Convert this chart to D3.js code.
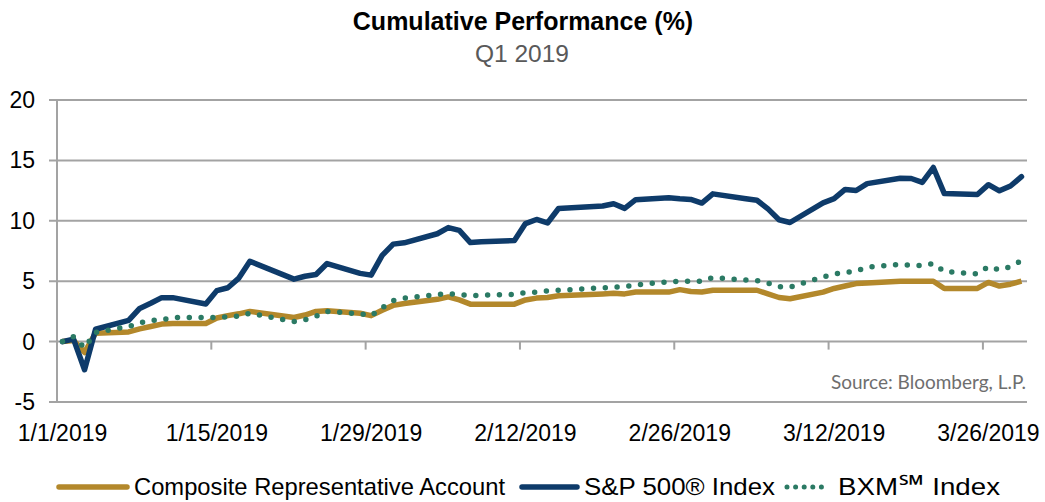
<!DOCTYPE html>
<html>
<head>
<meta charset="utf-8">
<script src="https://cdn.jsdelivr.net/npm/d3@7"></script>
<style>
  html, body { margin: 0; padding: 0; background: #fff; }
  svg { display: block; }
  text { font-family: "Liberation Sans", Arial, sans-serif; }
</style>
</head>
<body>
<svg id="chart" width="1045" height="502"></svg>
<script>
const dates = [
  "2019-01-01","2019-01-02","2019-01-03","2019-01-04","2019-01-07","2019-01-08","2019-01-09","2019-01-10","2019-01-11",
  "2019-01-14","2019-01-15","2019-01-16","2019-01-17","2019-01-18","2019-01-22","2019-01-23","2019-01-24","2019-01-25",
  "2019-01-28","2019-01-29","2019-01-30","2019-01-31",
  "2019-02-01","2019-02-04","2019-02-05","2019-02-06","2019-02-07","2019-02-08","2019-02-11","2019-02-12","2019-02-13",
  "2019-02-14","2019-02-15","2019-02-19","2019-02-20","2019-02-21","2019-02-22","2019-02-25","2019-02-26","2019-02-27","2019-02-28",
  "2019-03-01","2019-03-04","2019-03-05","2019-03-06","2019-03-07","2019-03-08","2019-03-11","2019-03-12","2019-03-13",
  "2019-03-14","2019-03-15","2019-03-18","2019-03-19","2019-03-20","2019-03-21","2019-03-22","2019-03-25","2019-03-26",
  "2019-03-27","2019-03-28","2019-03-29"
];
const composite = [
  0, 0.1, -0.9, 0.7, 0.8, 1.05, 1.25, 1.45, 1.5, 1.5, 1.95, 2.15, 2.3, 2.5, 2.0, 2.2, 2.5, 2.55, 2.35, 2.15, 2.6, 3.0,
  3.15, 3.5, 3.7, 3.45, 3.1, 3.1, 3.1, 3.45, 3.6, 3.65, 3.8, 3.95, 4.0, 3.95, 4.1, 4.1, 4.3, 4.15, 4.1,
  4.25, 4.25, 4.25, 3.95, 3.65, 3.55, 4.1, 4.4, 4.6, 4.8, 4.85, 5.0, 5.0, 5.0, 5.0, 4.4, 4.4, 4.9, 4.6, 4.75, 5.0
];
const sp500 = [
  0, 0.2, -2.33, 1.02, 1.75, 2.75, 3.17, 3.64, 3.64, 3.11, 4.22, 4.46, 5.26, 6.65, 5.17, 5.41, 5.55, 6.46, 5.65, 5.50, 7.14, 8.07,
  8.18, 8.93, 9.44, 9.21, 8.20, 8.27, 8.37, 9.77, 10.11, 9.82, 11.02, 11.22, 11.41, 11.03, 11.75, 11.91, 11.82, 11.77, 11.47,
  12.23, 11.82, 11.70, 10.99, 10.09, 9.86, 11.49, 11.83, 12.60, 12.51, 13.08, 13.52, 13.50, 13.18, 14.41, 12.25, 12.18, 12.99, 12.48, 12.88, 13.65
];
const bxm = [
  0, 0.4, -0.5, 0.75, 1.25, 1.55, 1.75, 1.8, 2.0, 2.0, 2.0, 2.05, 2.1, 2.35, 1.65, 1.8, 2.1, 2.5, 2.3, 2.15, 2.8, 3.4,
  3.6, 3.9, 3.95, 3.9, 3.8, 3.85, 3.9, 4.05, 4.1, 4.2, 4.25, 4.45, 4.5, 4.55, 4.7, 4.95, 5.0, 5.0, 5.0,
  5.3, 5.1, 5.05, 4.85, 4.55, 4.5, 5.35, 5.6, 5.7, 5.85, 6.15, 6.4, 6.3, 6.3, 6.45, 5.8, 5.6, 6.2, 5.95, 6.2, 6.7
];
const yTicks = [-5, 0, 5, 10, 15, 20];
const xTickLabels = ["1/1/2019","1/15/2019","1/29/2019","2/12/2019","2/26/2019","3/12/2019","3/26/2019"];
const seriesNames = ["Composite Representative Account", "S&P 500® Index", "BXM℠ Index"];
const titleText = "Cumulative Performance (%)";
const subtitleText = "Q1 2019";
const sourceText = "Source: Bloomberg, L.P.";

(function () {
const parse = d3.utcParse("%Y-%m-%d");
const HALF_DAY = 12 * 3600 * 1000;
const dateObjs = dates.map(parse);

const svg = d3.select("#chart");
const pLeft = 57, pRight = 1027, pTop = 100, pBottom = 402;

const x = d3.scaleUtc()
  .domain([parse("2019-01-01"), parse("2019-03-30")])
  .range([pLeft, pRight]);
const y = d3.scaleLinear().domain([-5, 20]).range([pBottom, pTop]);

const gridColor = "#a3a3a3";

svg.append("g").selectAll("line").data(yTicks).join("line")
  .attr("x1", pLeft - 8).attr("x2", pRight)
  .attr("y1", d => y(d)).attr("y2", d => y(d))
  .attr("stroke", gridColor).attr("stroke-width", 2);

svg.append("line")
  .attr("x1", pLeft).attr("x2", pLeft).attr("y1", y(20)).attr("y2", y(-5))
  .attr("stroke", gridColor).attr("stroke-width", 2);

svg.append("g").selectAll("text").data(yTicks).join("text")
  .attr("x", 35).attr("y", d => y(d) + 8)
  .attr("text-anchor", "end")
  .attr("font-size", 23).attr("fill", "#000")
  .text(d => d);

const tickDates = xTickLabels.map(s => d3.utcParse("%m/%d/%Y")(s));
svg.append("g").selectAll("line").data(tickDates.slice(1)).join("line")
  .attr("x1", d => x(d)).attr("x2", d => x(d))
  .attr("y1", y(0)).attr("y2", y(0) + 8)
  .attr("stroke", gridColor).attr("stroke-width", 2);

svg.append("g").selectAll("text").data(tickDates).join("text")
  .attr("x", d => x(new Date(+d + HALF_DAY)))
  .attr("y", 441)
  .attr("text-anchor", "middle")
  .attr("font-size", 23).attr("fill", "#000")
  .text((d, i) => xTickLabels[i]);

const line = d3.line()
  .x(d => x(new Date(+d[0] + HALF_DAY)))
  .y(d => y(d[1]));

const zip = arr => dateObjs.map((d, i) => [d, arr[i]]);

const gold = "#b3882b", navy = "#0e3b6a", green = "#2b7a64";

svg.append("path").datum(zip(composite))
  .attr("d", line).attr("fill", "none")
  .attr("stroke", gold).attr("stroke-width", 5.5)
  .attr("stroke-linejoin", "round");

svg.append("path").datum(zip(sp500))
  .attr("d", line).attr("fill", "none")
  .attr("stroke", navy).attr("stroke-width", 5.5)
  .attr("stroke-linejoin", "round").attr("stroke-linecap", "round");

svg.append("path").datum(zip(bxm))
  .attr("d", line).attr("fill", "none")
  .attr("stroke", green).attr("stroke-width", 5.5)
  .attr("stroke-linecap", "round")
  .attr("stroke-dasharray", "0 11.8");

svg.append("text").attr("x", 523).attr("y", 30)
  .attr("text-anchor", "middle").attr("font-size", 25).attr("font-weight", "bold")
  .attr("fill", "#000").text(titleText);
svg.append("text").attr("x", 522).attr("y", 62)
  .attr("text-anchor", "middle").attr("font-size", 24.5)
  .attr("fill", "#595959").text(subtitleText);

svg.append("text").attr("x", 1026).attr("y", 389)
  .attr("text-anchor", "end")
  .style("font-family", "Lato, 'Open Sans', sans-serif")
  .attr("font-size", 19).attr("fill", "#6e6e6e").text(sourceText);

const ly = 487, lfs = 24;
const legend = svg.append("g");
legend.append("line").attr("x1", 59).attr("x2", 127).attr("y1", ly).attr("y2", ly)
  .attr("stroke", gold).attr("stroke-width", 5.5).attr("stroke-linecap", "round");
legend.append("text").attr("x", 134).attr("y", ly + 8).attr("font-size", lfs).attr("fill", "#000")
  .attr("textLength", 371).attr("lengthAdjust", "spacingAndGlyphs").text(seriesNames[0]);
legend.append("line").attr("x1", 522).attr("x2", 577).attr("y1", ly).attr("y2", ly)
  .attr("stroke", navy).attr("stroke-width", 5.5).attr("stroke-linecap", "round");
legend.append("text").attr("x", 584).attr("y", ly + 8).attr("font-size", lfs).attr("fill", "#000")
  .attr("textLength", 191).attr("lengthAdjust", "spacingAndGlyphs").text(seriesNames[1]);
legend.append("line").attr("x1", 787).attr("x2", 830).attr("y1", ly).attr("y2", ly)
  .attr("stroke", green).attr("stroke-width", 5).attr("stroke-linecap", "round")
  .attr("stroke-dasharray", "0 8.6");
const bt = legend.append("text").attr("x", 838).attr("y", ly + 8).attr("font-size", lfs).attr("fill", "#000")
  .attr("textLength", 162).attr("lengthAdjust", "spacingAndGlyphs");
const parts = seriesNames[2].split("℠");
bt.append("tspan").text(parts[0]);
bt.append("tspan").attr("font-size", 28).text("℠");
bt.append("tspan").text(parts[1]);
})();
</script>
</body>
</html>
